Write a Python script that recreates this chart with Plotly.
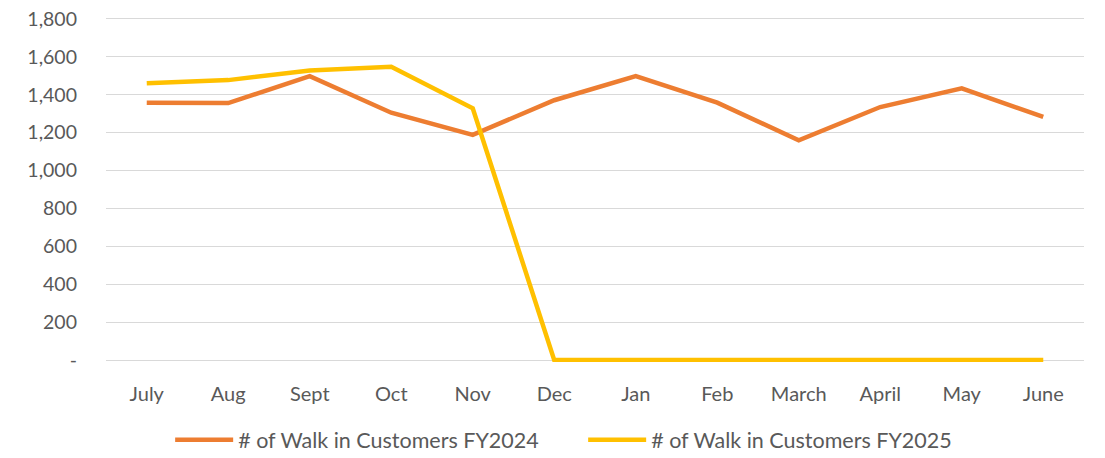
import plotly.graph_objects as go

months = ["July", "Aug", "Sept", "Oct", "Nov", "Dec", "Jan", "Feb", "March", "April", "May", "June"]
fy2024 = [1358, 1356, 1498, 1305, 1188, 1371, 1498, 1358, 1160, 1335, 1434, 1283]
fy2025 = [1460, 1477, 1528, 1547, 1328, 0, 0, 0, 0, 0, 0, 0]
ytick_vals = [0, 200, 400, 600, 800, 1000, 1200, 1400, 1600, 1800]
ytick_text = ["-", "200", "400", "600", "800", "1,000", "1,200", "1,400", "1,600", "1,800"]

font_family = "Lato, 'Liberation Sans', sans-serif"
text_color = "#595959"

fig = go.Figure()
fig.add_trace(go.Scatter(x=months, y=fy2024, mode="lines", name="# of Walk in Customers FY2024",
                         line=dict(color="#ED7D31", width=4.5)))
fig.add_trace(go.Scatter(x=months, y=fy2025, mode="lines", name="# of Walk in Customers FY2025",
                         line=dict(color="#FFC000", width=4.5)))

fig.update_layout(
    width=1105, height=458,
    margin=dict(l=98, r=29, t=9, b=104, autoexpand=False),
    plot_bgcolor="white", paper_bgcolor="white",
    font=dict(family=font_family, size=20, color=text_color),
    showlegend=True,
    legend=dict(orientation="h", xref="container", x=0.5205, xanchor="center",
                yref="container", y=0.057, yanchor="middle",
                font=dict(size=21.5, color=text_color), itemwidth=58,
                entrywidth=340, entrywidthmode="pixels", tracegroupgap=0),
    xaxis=dict(range=[-0.5, 11.5], showgrid=False, showline=False, zeroline=False, ticks="",
               ticklabelstandoff=18, tickfont=dict(size=20)),
    yaxis=dict(range=[-10, 1810], tickvals=ytick_vals, ticktext=ytick_text,
               showgrid=True, gridcolor="#D9D9D9", gridwidth=1.3, zeroline=False,
               showline=False, ticks="", ticklabelstandoff=28, tickfont=dict(size=19.5),
               ticklabeloverflow="allow"),
)

fig.write_html("out.html")
